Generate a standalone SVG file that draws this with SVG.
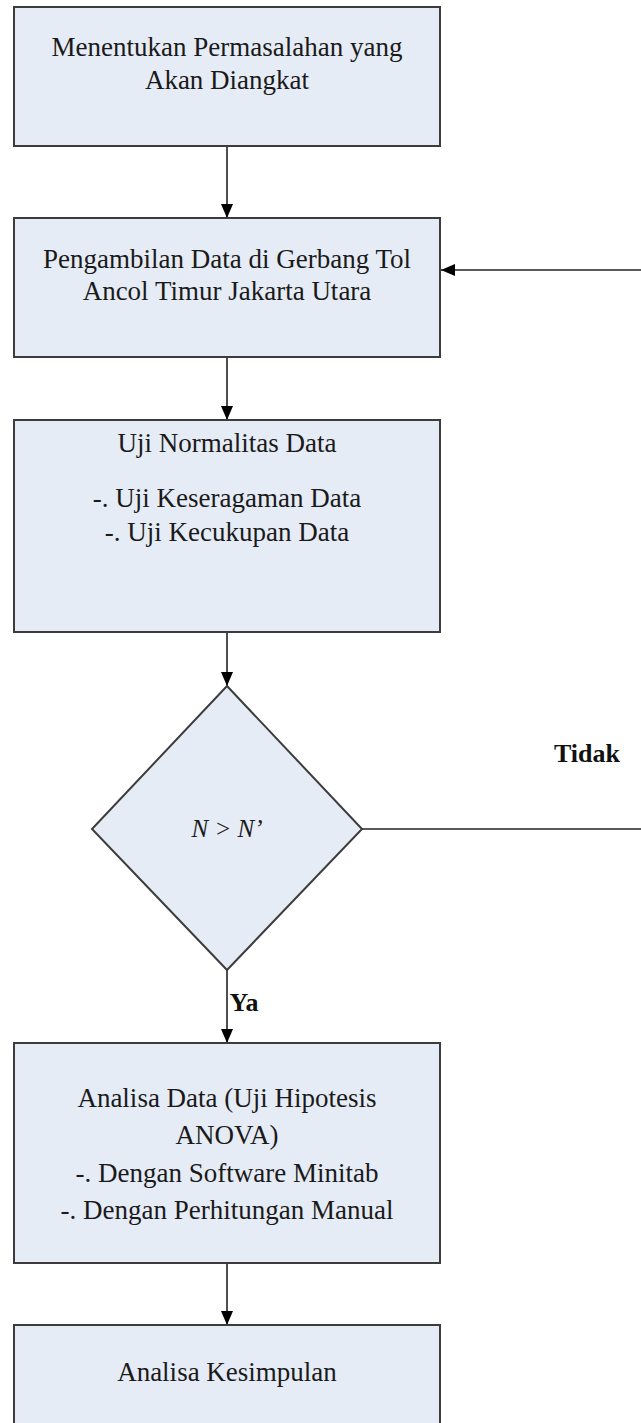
<svg xmlns="http://www.w3.org/2000/svg" width="641" height="1423" viewBox="0 0 641 1423">
<defs>
<style>
.box{fill:#e6ecf6;stroke:#3c3c3c;stroke-width:2}
.t{font-family:"Liberation Serif","Times New Roman",serif;font-size:27px;fill:#1a1a1a;text-anchor:middle}
.b{font-family:"Liberation Serif","Times New Roman",serif;font-size:26px;font-weight:bold;fill:#111;text-anchor:middle}
.i{font-family:"Liberation Serif","Times New Roman",serif;font-size:25px;font-style:italic;fill:#1a1a1a;text-anchor:middle}
.c{fill:none;stroke:#222;stroke-width:1.6}
</style>
<marker id="ah" markerWidth="14" markerHeight="12" refX="14" refY="6" orient="auto" markerUnits="userSpaceOnUse">
<path d="M0,0 L14,6 L0,12 Z" fill="#000"/>
</marker>
</defs>
<rect width="641" height="1423" fill="#fff"/>
<g id="connectors">
<line class="c" x1="227" y1="146" x2="227" y2="218" marker-end="url(#ah)"/>
<line class="c" x1="227" y1="357" x2="227" y2="420" marker-end="url(#ah)"/>
<line class="c" x1="227" y1="632" x2="227" y2="686" marker-end="url(#ah)"/>
<line class="c" x1="227" y1="970" x2="227" y2="1043" marker-end="url(#ah)"/>
<line class="c" x1="227" y1="1263" x2="227" y2="1325" marker-end="url(#ah)"/>
<line class="c" x1="362" y1="829" x2="641" y2="829"/>
<line class="c" x1="641" y1="270" x2="441" y2="270" marker-end="url(#ah)"/>
<text class="b" x="587" y="762">Tidak</text>
<text class="b" x="244" y="1011">Ya</text>
</g>
<g id="n1">
<rect class="box" x="14" y="7" width="426" height="139"/>
<text class="t" x="227" y="56">Menentukan Permasalahan yang</text>
<text class="t" x="227" y="89">Akan Diangkat</text>
</g>
<g id="n2">
<rect class="box" x="14" y="218" width="426" height="139"/>
<text class="t" x="227" y="268">Pengambilan Data di Gerbang Tol</text>
<text class="t" x="227" y="300">Ancol Timur Jakarta Utara</text>
</g>
<g id="n3">
<rect class="box" x="14" y="420" width="426" height="212"/>
<text class="t" x="227" y="452">Uji Normalitas Data</text>
<text class="t" x="227" y="507">-. Uji Keseragaman Data</text>
<text class="t" x="227" y="541">-. Uji Kecukupan Data</text>
</g>
<g id="n4">
<polygon class="box" points="227,686 362,829 227,970 92,829"/>
<text class="i" x="227" y="837">N &gt; N’</text>
</g>
<g id="n5">
<rect class="box" x="14" y="1043" width="426" height="220"/>
<text class="t" x="227" y="1107">Analisa Data (Uji Hipotesis</text>
<text class="t" x="227" y="1144">ANOVA)</text>
<text class="t" x="227" y="1182">-. Dengan Software Minitab</text>
<text class="t" x="227" y="1219">-. Dengan Perhitungan Manual</text>
</g>
<g id="n6">
<rect class="box" x="14" y="1325" width="426" height="110"/>
<text class="t" x="227" y="1381">Analisa Kesimpulan</text>
</g>
</svg>
